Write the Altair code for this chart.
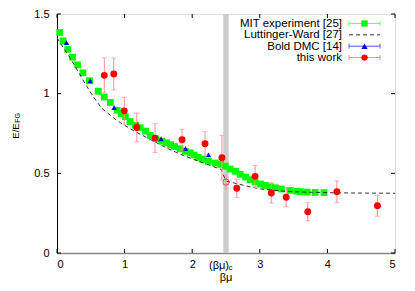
import altair as alt
import pandas as pd

# ---------------- data ----------------
mit_x = [0.04, 0.09, 0.16, 0.23, 0.305, 0.385, 0.48, 0.61, 0.70, 0.79, 0.89, 0.95, 1.01, 1.08,
         1.16, 1.23, 1.31, 1.38, 1.46, 1.55, 1.62, 1.68, 1.74, 1.82, 1.90, 1.97, 2.03, 2.09,
         2.15, 2.24, 2.34, 2.42, 2.49, 2.56, 2.64, 2.71, 2.79, 2.86, 2.93, 3.01, 3.08, 3.16,
         3.23, 3.32, 3.45, 3.55, 3.60, 3.70, 3.82, 3.95]
mit_y = [1.384, 1.331, 1.279, 1.229, 1.181, 1.131, 1.081, 1.015, 0.979, 0.945, 0.896, 0.875,
         0.856, 0.825, 0.802, 0.786, 0.765, 0.738, 0.717, 0.702, 0.692, 0.680, 0.668, 0.654,
         0.638, 0.628, 0.615, 0.600, 0.588, 0.575, 0.565, 0.556, 0.545, 0.527, 0.513, 0.494,
         0.477, 0.460, 0.445, 0.433, 0.424, 0.416, 0.409, 0.402, 0.393, 0.388, 0.385, 0.382,
         0.380, 0.379]

lw_x = [0.0, 0.1, 0.2, 0.3, 0.4, 0.52, 0.66, 0.89, 1.13, 1.38, 1.63, 1.87, 2.12, 2.32, 2.43,
        2.49, 2.51, 2.61, 2.86, 3.01, 3.35, 3.6, 4.09, 4.5, 5.0]
lw_y = [1.350, 1.284, 1.221, 1.148, 1.075, 0.992, 0.909, 0.830, 0.768, 0.713, 0.657, 0.612,
        0.572, 0.541, 0.524, 0.460, 0.450, 0.440, 0.415, 0.402, 0.388, 0.383, 0.378, 0.376, 0.375]

dmc_x = [0.14, 0.49, 0.845, 1.19, 1.54, 1.90, 2.24]
dmc_y = [1.32, 1.08, 0.913, 0.807, 0.717, 0.655, 0.616]
dmc_err = [0.012, 0.012, 0.012, 0.012, 0.012, 0.012, 0.012]

work_x = [0.70, 0.84, 0.995, 1.18, 1.45, 1.85, 2.19, 2.44, 2.66, 2.93, 3.17, 3.39, 3.71, 4.14, 4.74]
work_y = [1.115, 1.123, 0.892, 0.788, 0.721, 0.711, 0.686, 0.598, 0.406, 0.481, 0.377, 0.350,
          0.259, 0.384, 0.296]
work_err = [0.11, 0.10, 0.085, 0.09, 0.09, 0.065, 0.075, 0.14, 0.057, 0.068, 0.063, 0.06,
            0.057, 0.068, 0.065]

crit_x = [2.50]
crit_y = [0.445]
crit_err = [0.05]

band_x = [2.46]
band_x2 = [2.54]

x_ticks = [0, 1, 2, 3, 4, 5]
y_ticks = [0, 0.5, 1, 1.5]

legend_labels = ["MIT experiment [25]", "Luttinger-Ward [27]", "Bold DMC [14]", "this work"]
legend_colors = ["#00ff00", "#333333", "#0000ff", "#ff0000"]
legend_line_colors = ["#66ff66", "#333333", "#5555ff", "#ff8888"]
legend_shapes = ["square", "circle", "triangle-up", "circle"]

# ---------------- layout ----------------
W, H = 338, 239
FONT = "Liberation Sans"

xs = alt.Scale(domain=[0, 5], nice=False, zero=False)
ys = alt.Scale(domain=[0, 1.5], nice=False, zero=False)

mit = pd.DataFrame({"x": mit_x, "y": mit_y})
lw = pd.DataFrame({"x": lw_x, "y": lw_y, "i": list(range(len(lw_x)))})
dmc = pd.DataFrame({"x": dmc_x, "y": dmc_y, "lo": [a - b for a, b in zip(dmc_y, dmc_err)],
                    "hi": [a + b for a, b in zip(dmc_y, dmc_err)]})
work = pd.DataFrame({"x": work_x, "y": work_y, "lo": [a - b for a, b in zip(work_y, work_err)],
                     "hi": [a + b for a, b in zip(work_y, work_err)]})
crit = pd.DataFrame({"x": crit_x, "y": crit_y, "lo": [a - b for a, b in zip(crit_y, crit_err)],
                     "hi": [a + b for a, b in zip(crit_y, crit_err)]})
band = pd.DataFrame({"x": band_x, "x2": band_x2})
xt = pd.DataFrame({"t": x_ticks})
yt = pd.DataFrame({"t": y_ticks})
leg = pd.DataFrame({"label": legend_labels, "idx": list(range(4)), "c": legend_colors,
                    "lc": legend_line_colors, "shape": legend_shapes})

X = lambda f="x": alt.X(f + ":Q", scale=xs,
                        axis=alt.Axis(values=x_ticks, tickSize=0, labelPadding=5, labelFontSize=11,
                                      labelFont=FONT, labelColor="black", labelExpr="datum.value",
                                      domainColor="#888888", domainWidth=1.5, grid=False,
                                      title=None))
Y = lambda f="y": alt.Y(f + ":Q", scale=ys,
                        axis=alt.Axis(values=y_ticks, tickSize=0, labelPadding=8, labelFontSize=11,
                                      labelFont=FONT, labelColor="black", labelExpr="datum.value",
                                      domainColor="black", grid=False, title=None))

band_l = alt.Chart(band).mark_rect(color="#cccccc").encode(
    x=X("x"), x2="x2:Q", y=alt.value(0), y2=alt.value(H))

mit_l = alt.Chart(mit).mark_point(shape="square", filled=True, size=46, color="#00ff00",
                                  opacity=1).encode(x=X(), y=Y())

lw_l = alt.Chart(lw).mark_line(color="#333333", strokeWidth=1, strokeDash=[4, 3]).encode(
    x=X(), y=Y(), order="i:Q")

dmc_err_l = alt.Chart(dmc).mark_rule(color="#6666ff", strokeWidth=1).encode(
    x=X(), y=Y("lo"), y2="hi:Q")
dmc_l = alt.Chart(dmc).mark_point(shape="triangle-up", filled=True, size=30, color="#0000ff",
                                  opacity=1).encode(x=X(), y=Y())

ERR_RED = "#ff9090"
work_err_l = alt.Chart(work).mark_rule(color=ERR_RED, strokeWidth=1).encode(
    x=X(), y=Y("lo"), y2="hi:Q")
work_cap_lo = alt.Chart(work).mark_tick(orient="horizontal", size=5, thickness=1,
                                        color=ERR_RED).encode(x=X(), y=Y("lo"))
work_cap_hi = alt.Chart(work).mark_tick(orient="horizontal", size=5, thickness=1,
                                        color=ERR_RED).encode(x=X(), y=Y("hi"))
work_l = alt.Chart(work).mark_point(shape="circle", filled=True, size=48, color="#ff0000",
                                    opacity=1).encode(x=X(), y=Y())

crit_err_l = alt.Chart(crit).mark_rule(color=ERR_RED, strokeWidth=1).encode(
    x=X(), y=Y("lo"), y2="hi:Q")
crit_l = alt.Chart(crit).mark_point(shape="circle", filled=False, size=40, color="#ff4444",
                                    strokeWidth=1, opacity=1).encode(x=X(), y=Y())

# inward ticks on all four sides
tick_b = alt.Chart(xt).mark_rule(color="black").encode(x=X("t"), y=alt.value(H), y2=alt.value(H - 4))
tick_t = alt.Chart(xt).mark_rule(color="black").encode(x=X("t"), y=alt.value(0), y2=alt.value(4))
tick_l = alt.Chart(yt).mark_rule(color="black").encode(y=Y("t"), x=alt.value(0), x2=alt.value(4))
tick_r = alt.Chart(yt).mark_rule(color="black").encode(y=Y("t"), x=alt.value(W - 4), x2=alt.value(W))

# critical-point tick label (βμ)_c
crit_lab = alt.Chart(band).mark_text(text="(βμ)", font=FONT, fontSize=11, align="center",
                                     baseline="middle", dx=-7).encode(
    x=alt.X("mid:Q", scale=xs), y=alt.value(H + 12.5)).transform_calculate(
    mid="(datum.x + datum.x2) / 2")
crit_sub = alt.Chart(band).mark_text(text="c", font=FONT, fontSize=8, align="left",
                                     baseline="middle", dx=2.5).encode(
    x=alt.X("mid:Q", scale=xs), y=alt.value(H + 15)).transform_calculate(
    mid="(datum.x + datum.x2) / 2")

# axis titles
x_title = alt.Chart(band).mark_text(text="βμ", font=FONT, fontSize=11, align="center",
                                    baseline="middle").encode(x=alt.value(W / 2), y=alt.value(H + 25))
y_title = alt.Chart(band).mark_text(text="E/E", font=FONT, fontSize=9.5, align="center",
                                    baseline="middle", angle=270).encode(
    x=alt.value(-41), y=alt.value(117))
y_sub = alt.Chart(band).mark_text(text="FG", font=FONT, fontSize=7, align="center",
                                  baseline="middle", angle=270).encode(
    x=alt.value(-39.5), y=alt.value(104))

# legend
LX_TEXT, LX0, LX1 = 285, 292, 323
leg_base = alt.Chart(leg).transform_calculate(py="9.5 + 11.35 * datum.idx",
                                              plo="datum.py - 2.5", phi="datum.py + 2.5")
leg_text = leg_base.mark_text(align="right", baseline="middle", font=FONT, fontSize=11.5,
                              dy=0.5).encode(
    x=alt.value(LX_TEXT), y=alt.Y("py:Q", scale=None), text="label:N")
leg_eb = leg_base.transform_filter("datum.idx != 1")
leg_line = leg_eb.mark_rule(strokeWidth=1).encode(
    x=alt.value(LX0), x2=alt.value(LX1), y=alt.Y("py:Q", scale=None),
    color=alt.Color("lc:N", scale=None))
leg_cap0 = leg_eb.mark_rule(strokeWidth=1).encode(
    x=alt.value(LX0), y=alt.Y("plo:Q", scale=None), y2="phi:Q", color=alt.Color("lc:N", scale=None))
leg_cap1 = leg_eb.mark_rule(strokeWidth=1).encode(
    x=alt.value(LX1), y=alt.Y("plo:Q", scale=None), y2="phi:Q", color=alt.Color("lc:N", scale=None))
leg_mark = leg_eb.mark_point(filled=True, opacity=1).encode(
    x=alt.value((LX0 + LX1) / 2), y=alt.Y("py:Q", scale=None),
    shape=alt.Shape("shape:N", scale=None), color=alt.Color("c:N", scale=None),
    size=alt.value(40))
leg_dash = leg_base.transform_filter("datum.idx == 1").mark_rule(
    strokeWidth=1, strokeDash=[4, 3]).encode(
    x=alt.value(LX0), x2=alt.value(LX1), y=alt.Y("py:Q", scale=None),
    color=alt.Color("c:N", scale=None))

chart = alt.layer(
    band_l, mit_l, lw_l, dmc_err_l, dmc_l, work_err_l, work_cap_lo, work_cap_hi, work_l,
    crit_err_l, crit_l, tick_b, tick_t, tick_l, tick_r, crit_lab, crit_sub, x_title, y_title,
    y_sub, leg_text, leg_line, leg_cap0, leg_cap1, leg_mark, leg_dash
).properties(
    width=W, height=H,
    autosize=alt.AutoSizeParams(type="none"),
    padding={"left": 49, "top": 6, "right": 12, "bottom": 30},
).configure_view(stroke="black", strokeWidth=1).configure(background="white")

chart.save("out.html", embed_options={"renderer": "svg", "actions": False})
